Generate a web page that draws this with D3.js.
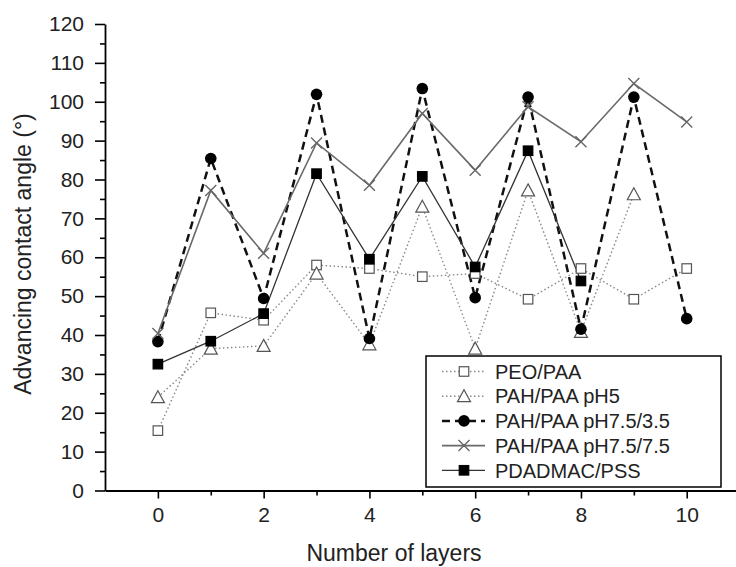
<!DOCTYPE html>
<html><head><meta charset="utf-8">
<script src="https://cdn.jsdelivr.net/npm/d3@7"></script>
<style>body{margin:0;background:#fff}svg{display:block}text{font-family:"Liberation Sans",Arial,sans-serif}</style>
</head><body>
<svg id="c" width="736" height="567"></svg>
<script>
const layers = [0,1,2,3,4,5,6,7,8,9,10];
const peoPaa = [15.4,45.7,43.8,58.0,57.1,55.0,55.8,49.2,57.1,49.2,57.1];
const pahPh5 = [24.0,36.5,37.2,55.8,37.6,73.0,36.5,77.2,40.8,76.2];
const pahPh7535 = [38.3,85.4,49.4,101.9,39.1,103.4,49.6,101.2,41.5,101.2,44.2];
const pahPh7575 = [40.4,77.2,61.0,89.4,78.5,97.0,82.4,98.7,89.7,104.7,94.8];
const pdadmacPss = [32.5,38.4,45.5,81.5,59.5,80.8,57.5,87.4,53.9];
const seriesNames = ["PEO/PAA","PAH/PAA pH5","PAH/PAA pH7.5/3.5","PAH/PAA pH7.5/7.5","PDADMAC/PSS"];
const yTicks = [0,10,20,30,40,50,60,70,80,90,100,110,120];
const xTicks = [0,2,4,6,8,10];

const svg = d3.select("#c");
const x = d3.scaleLinear().domain([-1,11]).range([105,739.6]);
const y = d3.scaleLinear().domain([0,120]).range([490.5,24]);

const styles = [
  {data:peoPaa, stroke:"#888", width:1.4, dash:"1.5,2.5", marker:"sq", fill:"#fff", mstroke:"#555"},
  {data:pahPh5, stroke:"#888", width:1.4, dash:"1.5,2.5", marker:"tri", fill:"#fff", mstroke:"#555"},
  {data:pahPh7535, stroke:"#111", width:2.5, dash:"8,5", marker:"circ", fill:"#000", mstroke:"#000"},
  {data:pahPh7575, stroke:"#6a6a6a", width:1.6, dash:null, marker:"x", fill:"none", mstroke:"#666"},
  {data:pdadmacPss, stroke:"#333", width:1.3, dash:null, marker:"fsq", fill:"#000", mstroke:"#000"}
];

// axes
const gy = svg.append("g").attr("transform","translate(105,0)");
gy.call(d3.axisLeft(y).tickValues(d3.range(5,120,10)).tickSize(5).tickFormat(""));
gy.call(g=>g.select(".domain").remove());
const gy2 = svg.append("g").attr("transform","translate(105,0)");
gy2.call(d3.axisLeft(y).tickValues(yTicks).tickSize(10).tickPadding(11).tickSizeOuter(0));
gy2.select(".domain").attr("stroke-width",1.8);
gy2.selectAll("text").attr("font-size",21).attr("fill","#222");

const gx = svg.append("g").attr("transform","translate(0,490.5)");
gx.call(d3.axisBottom(x).tickValues([1,3,5,7,9]).tickSize(5).tickFormat(""));
gx.call(g=>g.select(".domain").remove());
const gx2 = svg.append("g").attr("transform","translate(0,490.5)");
gx2.call(d3.axisBottom(x).tickValues(xTicks).tickSize(8).tickPadding(9).tickSizeOuter(0));
gx2.select(".domain").attr("stroke-width",1.8);
gx2.selectAll("text").attr("font-size",21).attr("fill","#222");
svg.selectAll(".tick line").attr("stroke","#000").attr("stroke-width",1.6);

svg.append("text").attr("x",394).attr("y",561).attr("text-anchor","middle").attr("font-size",23).attr("fill","#222").text("Number of layers");
svg.append("text").attr("transform","translate(31,254) rotate(-90)").attr("text-anchor","middle").attr("font-size",23).attr("fill","#222").text("Advancing contact angle (°)");

function drawMarker(g, type, cx, cy, s){
  if(type==="sq"||type==="fsq"){
    g.append("rect").attr("x",cx-4.75).attr("y",cy-4.75).attr("width",9.5).attr("height",9.5)
     .attr("fill",s.fill).attr("stroke",s.mstroke).attr("stroke-width",1.2);
  } else if(type==="tri"){
    g.append("path").attr("d",`M${cx},${cy-6.5}L${cx+6.5},${cy+5.5}L${cx-6.5},${cy+5.5}Z`)
     .attr("fill",s.fill).attr("stroke",s.mstroke).attr("stroke-width",1.2);
  } else if(type==="circ"){
    g.append("circle").attr("cx",cx).attr("cy",cy).attr("r",5.8).attr("fill",s.fill);
  } else if(type==="x"){
    g.append("path").attr("d",`M${cx-5.5},${cy-5.5}L${cx+5.5},${cy+5.5}M${cx-5.5},${cy+5.5}L${cx+5.5},${cy-5.5}`)
     .attr("stroke",s.mstroke).attr("stroke-width",1.4);
  }
}

const line = d3.line().x((d,i)=>x(layers[i])).y(d=>y(d));
styles.forEach(s=>{
  svg.append("path").attr("d",line(s.data)).attr("fill","none").attr("stroke",s.stroke)
    .attr("stroke-width",s.width).attr("stroke-dasharray",s.dash);
});
styles.forEach(s=>{
  const g = svg.append("g");
  s.data.forEach((v,i)=>drawMarker(g,s.marker,x(layers[i]),y(v),s));
});

// legend
const lg = svg.append("g");
lg.append("rect").attr("x",426).attr("y",356).attr("width",295).attr("height",131)
  .attr("fill","#fff").attr("stroke","#000").attr("stroke-width",1.5);
styles.forEach((s,i)=>{
  const ly = 371.5 + i*24.7;
  lg.append("line").attr("x1",442).attr("x2",485).attr("y1",ly).attr("y2",ly)
    .attr("stroke",s.stroke).attr("stroke-width",s.width).attr("stroke-dasharray",s.dash);
  drawMarker(lg,s.marker,464,ly,s);
  lg.append("text").attr("x",495).attr("y",ly).attr("dy","0.36em").attr("font-size",20).attr("fill","#222").text(seriesNames[i]);
});
</script>
</body></html>
